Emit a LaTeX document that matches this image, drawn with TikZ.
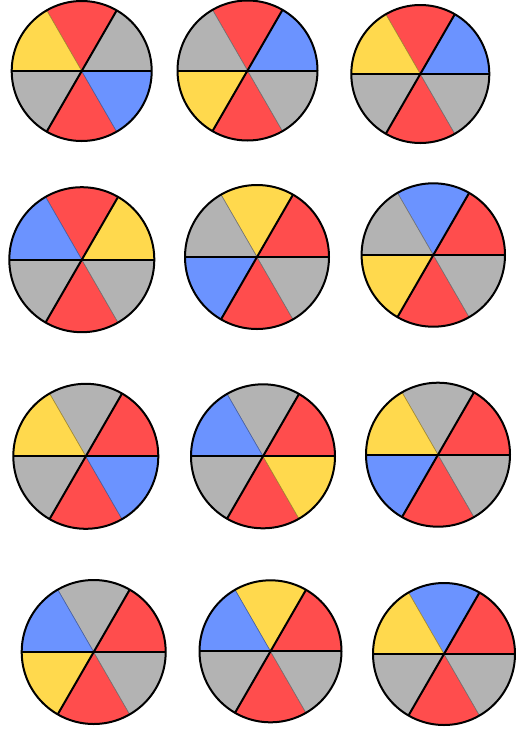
\documentclass[tikz,border=0pt]{standalone}
\usepackage{tikz}

\definecolor{sred}{HTML}{FF4D4D}
\definecolor{sblue}{HTML}{6B93FF}
\definecolor{syellow}{HTML}{FFD94D}
\definecolor{sgray}{HTML}{B3B3B3}

\begin{document}
\begin{tikzpicture}[x=1pt,y=1pt,
  sector/.style={fill=#1,draw=#1!65!black,line width=0.6pt},
  rim/.style={draw=black,line width=2pt}]
\useasboundingbox (0,0) rectangle (515,-729);
\foreach \x/\y/\r/\cols [count=\i] in {
   81.7/-71.0/70.0/{sgray,sred,syellow,sgray,sred,sblue},
  247.5/-70.5/70.0/{sblue,sred,sgray,syellow,sred,sgray},
  420.3/-74.0/69.0/{sblue,sred,syellow,sgray,sred,sgray},
   81.8/-259.7/72.5/{syellow,sred,sblue,sgray,sred,sgray},
  257.0/-257.0/72.0/{sred,syellow,sgray,sblue,sred,sgray},
  433.3/-255.0/71.7/{sred,sblue,sgray,syellow,sred,sgray},
   85.8/-456.3/72.5/{sred,sgray,syellow,sgray,sred,sblue},
  263.0/-456.3/72.0/{sred,sgray,sblue,sgray,sred,syellow},
  438.0/-454.7/72.0/{sred,sgray,syellow,sblue,sred,sgray},
   93.7/-652.0/72.0/{sred,sgray,sblue,syellow,sred,sgray},
  270.5/-651.3/71.0/{sred,syellow,sblue,sgray,sred,sgray},
  444.0/-654.0/71.0/{sred,sblue,syellow,sgray,sred,sgray}}
{
  \coordinate (s\i) at (\x,\y);
  % six sectors, counter-clockwise from the right
  \foreach \c [count=\k from 0] in \cols
    \draw[sector=\c] (s\i) -- ++(60*\k:\r)
      arc[start angle=60*\k,end angle=60*\k+60,radius=\r] -- cycle;
  \draw[rim] (s\i) circle[radius=\r];
  \draw[rim] (s\i) ++(180:\r) -- ++(0:2*\r);
  \draw[rim] (s\i) ++(240:\r) -- ++(60:2*\r);
}
\end{tikzpicture}
\end{document}
